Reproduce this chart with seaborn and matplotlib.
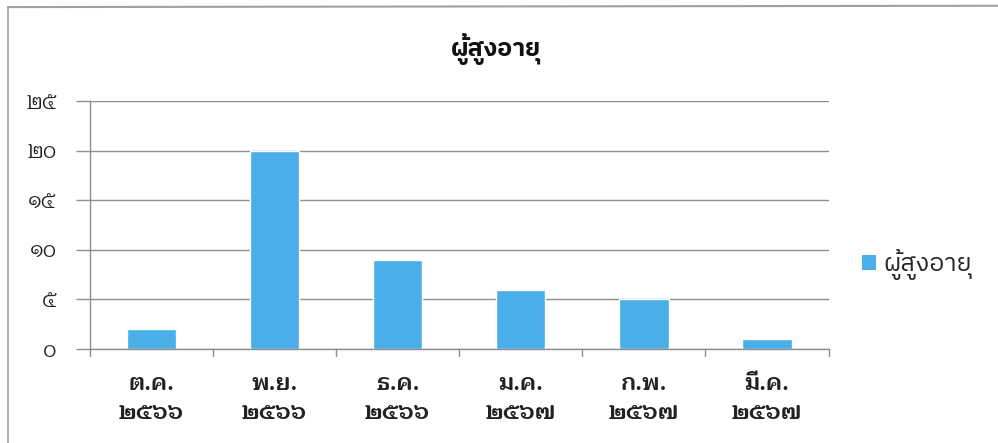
import matplotlib
matplotlib.use("Agg")
import pandas as pd
import seaborn as sns
import matplotlib.pyplot as plt
from matplotlib.lines import Line2D
from matplotlib.patches import Patch

# data
months = ["ต.ค.\n๒๕๖๖", "พ.ย.\n๒๕๖๖", "ธ.ค.\n๒๕๖๖", "ม.ค.\n๒๕๖๗", "ก.พ.\n๒๕๖๗", "มี.ค.\n๒๕๖๗"]
elderly = [2, 20, 9, 6, 5, 1]
y_ticks = [0, 5, 10, 15, 20, 25]
y_labels = ["๐", "๕", "๑๐", "๑๕", "๒๐", "๒๕"]
series_name = "ผู้สูงอายุ"

df = pd.DataFrame({"month": months, "value": elderly})

sns.set_theme(style="white")
plt.rcParams["font.family"] = ["IBM Plex Sans Thai", "Noto Sans Thai", "DejaVu Sans"]
looped = ["Maitree", "Sarabun", "DejaVu Sans"]

bar_color = "#4aaee8"
grid_color = "#8e8e8e"

fig = plt.figure(figsize=(9.98, 4.43), dpi=100)
ax = fig.add_axes([0.0902, 0.212, 0.740, 0.560])

sns.barplot(data=df, x="month", y="value", color=bar_color, width=0.4,
            saturation=1, ax=ax)

ax.set_ylim(0, 25)
ax.set_xlim(-0.5, len(months) - 0.5)
ax.set_yticks(y_ticks)
ax.set_yticklabels(y_labels, family=looped, fontsize=16, color="#222222")
ax.set_xticks(range(len(months)))
ax.set_xticklabels(months, family=looped, fontsize=17, fontweight="bold",
                   color="#222222", linespacing=1.45)
ax.tick_params(axis="x", length=0, pad=17)
ax.tick_params(axis="y", length=10, width=1, color=grid_color, pad=14,
               direction="out", left=True)
ax.set_xlabel("")
ax.set_ylabel("")

ax.yaxis.grid(True, color=grid_color, linewidth=1)
ax.set_axisbelow(True)
for s in ["top", "right"]:
    ax.spines[s].set_visible(False)
ax.spines["left"].set_color(grid_color)
ax.spines["bottom"].set_color(grid_color)
ax.spines["left"].set_linewidth(1)
ax.spines["bottom"].set_linewidth(1)

# category boundary ticks below the x axis (Excel style)
for b in range(len(months) + 1):
    ax.plot([b - 0.5, b - 0.5], [0, -0.7], color=grid_color, lw=1,
            clip_on=False, zorder=1)

fig.text(0.497, 0.89, series_name, ha="center", va="center", fontsize=18,
         fontweight="bold", color="#111111")

handle = Patch(facecolor=bar_color, edgecolor="none")
fig.legend([handle], [series_name], loc="center left",
           bbox_to_anchor=(0.864, 0.402), frameon=False, fontsize=18,
           handlelength=0.55, handleheight=0.55, handletextpad=0.3,
           borderpad=0, borderaxespad=0)

# outer chart frame (left and top edges visible in the scan)
fig.add_artist(Line2D([0.008, 0.008], [0.0, 0.984], color="#a0a0a0", lw=1.2,
                      transform=fig.transFigure))
fig.add_artist(Line2D([0.008, 1.0], [0.984, 0.987], color="#a0a0a0", lw=1.5,
                      transform=fig.transFigure))

fig.savefig("out.png", dpi=100)
